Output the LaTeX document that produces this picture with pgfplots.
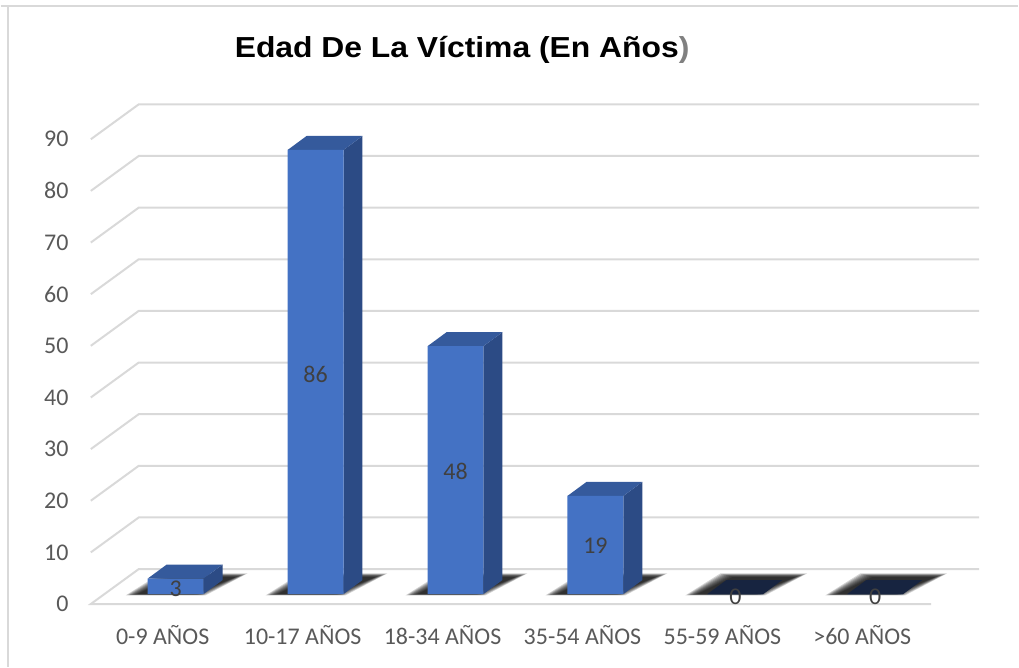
\documentclass[border=0pt]{standalone}
\usepackage{graphicx}
\usepackage{pgfplots}
\pgfplotsset{compat=1.18}
\usepackage{fontspec}
\setmainfont{Carlito}
\newfontfamily\arial{Liberation Sans}
\definecolor{barfront}{HTML}{4472C4}
\definecolor{barside}{HTML}{2C4B85}
\definecolor{bartop}{HTML}{355A9C}
\definecolor{navy}{HTML}{172440}
\definecolor{gridc}{HTML}{D9D9D9}
\definecolor{txt}{HTML}{595959}
\definecolor{lbl}{HTML}{404040}
% soft shadow on the floor under a bar centred at #1 (layer inset by #2 px)
\newcommand\shadowlayer[2]{%
  \pgfmathsetmacro\xa{#1-50+#2}%
  \pgfmathsetmacro\xb{#1+30-#2}%
  \pgfmathsetmacro\xc{#1+72-#2}%
  \pgfmathsetmacro\xd{#1-15+#2}%
  \pgfmathsetmacro\ya{-0.25+#2*0.02}%
  \pgfmathsetmacro\yb{4.0-#2*0.06}%
  \edef\tmp{\noexpand\addplot[fill=black, draw=none, opacity=0.17, forget plot] coordinates {(\xa,\ya) (\xb,\ya) (\xc,\yb) (\xd,\yb)} -- cycle;}\tmp}
\newcommand\shadowat[1]{\shadowlayer{#1}{0}\shadowlayer{#1}{1.5}\shadowlayer{#1}{3}\shadowlayer{#1}{4.5}\shadowlayer{#1}{6}\shadowlayer{#1}{7.5}\shadowlayer{#1}{9}\shadowlayer{#1}{10.5}\shadowlayer{#1}{12}}
\begin{document}
\begin{tikzpicture}
\begin{axis}[
  scale only axis, width=509.5pt, height=334pt,
  xmin=0, xmax=1019, ymin=-14.109, ymax=115.0,
  clip=false,
  axis line style={draw=none},
  major tick length=0pt,
  xtick={162,302.2,442.4,582.6,722.8,863},
  xticklabels={0-9 AÑOS,10-17 AÑOS,18-34 AÑOS,35-54 AÑOS,55-59 AÑOS,>60 AÑOS},
  ytick={-1.93,8.07,18.07,28.07,38.07,48.07,58.07,68.07,78.07,88.07},
  yticklabels={0,10,20,30,40,50,60,70,80,90},
  ticklabel style={font=\fontsize{12}{14}\selectfont, text=txt, inner sep=0pt},
  yticklabel style={anchor=east, xshift=34pt},
  xticklabel style={anchor=center, yshift=16pt},
]
% border
\draw[gridc, line width=1pt] (axis cs:0,113.84) -- (axis cs:1019,113.84);
\draw[gridc, line width=1pt] (axis cs:7,113.84) -- (axis cs:7,-14.109);
% gridlines
\pgfplotsinvokeforeach{10,20,...,90}{
  \draw[gridc, line width=1pt] (axis cs:90,{#1-1.93}) -- (axis cs:138,{#1+4.83}) -- (axis cs:980,{#1+4.83});
}
\draw[gridc, line width=1pt] (axis cs:932,-1.93) -- (axis cs:90,-1.93) -- (axis cs:138,4.83) -- (axis cs:980,4.83);
% shadows
\shadowat{175}
\shadowat{315.2}
\shadowat{455.4}
\shadowat{595.6}
\shadowat{735.8}
\shadowat{876}
% side faces
\addplot[fill=barside, draw=none] coordinates {(203,0) (222,2.706) (222,5.706) (203,3)} -- cycle;
\addplot[fill=barside, draw=none] coordinates {(343.2,0) (362.2,2.706) (362.2,88.706) (343.2,86)} -- cycle;
\addplot[fill=barside, draw=none] coordinates {(483.4,0) (502.4,2.706) (502.4,50.706) (483.4,48)} -- cycle;
\addplot[fill=barside, draw=none] coordinates {(623.6,0) (642.6,2.706) (642.6,21.706) (623.6,19)} -- cycle;
% top faces
\addplot[fill=bartop, draw=none] coordinates {(147,3) (203,3) (222,5.706) (166,5.706)} -- cycle;
\addplot[fill=bartop, draw=none] coordinates {(287.2,86) (343.2,86) (362.2,88.706) (306.2,88.706)} -- cycle;
\addplot[fill=bartop, draw=none] coordinates {(427.4,48) (483.4,48) (502.4,50.706) (446.4,50.706)} -- cycle;
\addplot[fill=bartop, draw=none] coordinates {(567.6,19) (623.6,19) (642.6,21.706) (586.6,21.706)} -- cycle;
\addplot[fill=navy, draw=none] coordinates {(707.8,0) (763.8,0) (782.8,2.706) (726.8,2.706)} -- cycle;
\addplot[fill=navy, draw=none] coordinates {(848,0) (904,0) (923,2.706) (867,2.706)} -- cycle;
% front faces
\addplot[ybar, bar width=56, fill=barfront, draw=none] coordinates {(175,3) (315.2,86) (455.4,48) (595.6,19) (735.8,0) (876,0)};
% value labels
\addplot[only marks, mark=none, nodes near coords, point meta=explicit symbolic,
  every node near coord/.append style={font=\fontsize{12}{14}\selectfont, text=lbl, anchor=center}]
  coordinates {(175,1.0) [3] (315.2,42.5) [86] (455.4,23.8) [48] (595.6,9.3) [19] (735.8,-0.5) [0] (876,-0.5) [0]};
% title
\node[font=\arial\bfseries\fontsize{14.5}{17}\selectfont, text=black] at (axis cs:462,105.3) {\scalebox{1.1}[1]{Edad De La Víctima (En Años\textcolor{gray}{)}}};
\end{axis}
\end{tikzpicture}
\end{document}
